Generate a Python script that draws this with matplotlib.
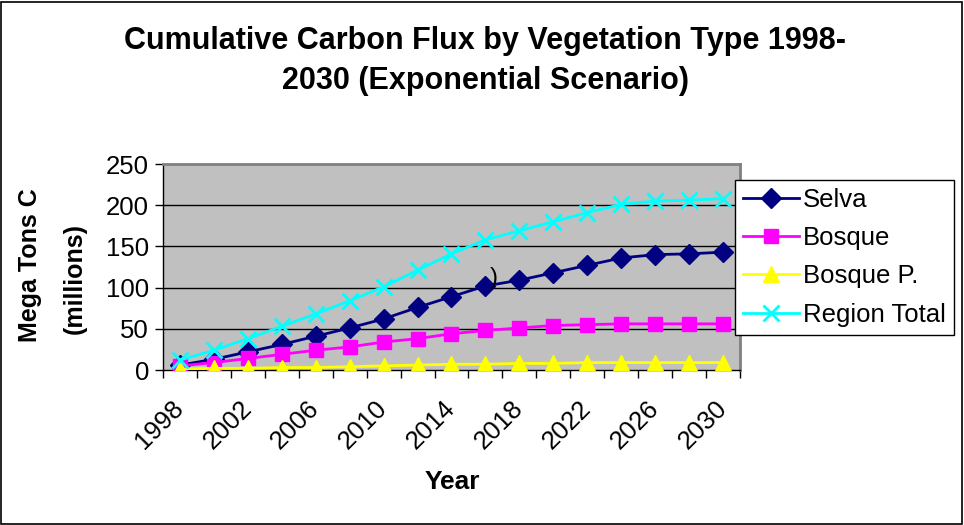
import matplotlib
matplotlib.use("Agg")
import matplotlib.pyplot as plt
from matplotlib.patches import Rectangle

years = [1998, 2000, 2002, 2004, 2006, 2008, 2010, 2012, 2014, 2016,
         2018, 2020, 2022, 2024, 2026, 2028, 2030]
selva = [6, 13, 22, 31, 41, 51, 62, 76, 89, 102, 109, 118, 127, 136, 140, 141, 143]
bosque = [5, 9, 14, 19, 24, 28, 34, 38, 44, 48, 51, 54, 55, 56, 56, 56, 56]
bosque_p = [1, 2, 2, 3, 3, 4, 5, 6, 7, 7, 8, 8, 9, 9, 9, 9, 9]
region_total = [12, 24, 38, 53, 68, 84, 101, 121, 141, 158, 169, 180, 191, 201, 205, 206, 208]

plt.rcParams['font.family'] = ['Liberation Sans', 'DejaVu Sans']

W, H = 964, 525
fig = plt.figure(figsize=(W / 100, H / 100), dpi=100)
fig.patch.set_facecolor('white')
fig.patches.append(Rectangle((0.001, 0.002), 0.997, 0.995, transform=fig.transFigure,
                             fill=False, edgecolor='black', linewidth=1.2))

L, R, T, B = 163, 740, 164, 370
ax = fig.add_axes([L / W, 1 - B / H, (R - L) / W, (B - T) / H])
ax.set_facecolor('#C0C0C0')

x = list(range(len(years)))
lw = 2.0
ax.plot(x, selva, color='#000080', lw=lw, marker='D', ms=10, mec='#000080', label='Selva', zorder=4)
ax.plot(x, bosque, color='#FF00FF', lw=lw, marker='s', ms=10, mec='#FF00FF', label='Bosque', zorder=4)
ax.plot(x, bosque_p, color='#FFFF00', lw=lw, marker='^', ms=11, mec='#FFFF00', label='Bosque P.', zorder=4)
ax.plot(x, region_total, color='#00FFFF', lw=lw, marker='x', ms=11, mew=2.0, label='Region Total', zorder=4)

ax.text(9.26, 112, ')', fontsize=17, ha='center', va='center', color='black', zorder=5)

ax.set_xlim(-0.5, len(years) - 0.5)
ax.set_ylim(0, 250)
ax.set_yticks([0, 50, 100, 150, 200, 250])
ax.set_yticklabels(['0', '50', '100', '150', '200', '250'], fontsize=18.5)
for yv in [50, 100, 150, 200]:
    ax.axhline(yv, color='black', lw=1.0, zorder=1)

ax.set_xticks([i - 0.5 for i in range(len(years) + 1)], minor=True)
ax.set_xticks(x)
ax.set_xticklabels([str(y) if i % 2 == 0 else '' for i, y in enumerate(years)],
                   fontsize=18.5, rotation=45, ha='right', va='center', rotation_mode='anchor')
ax.tick_params(axis='x', which='major', length=0, pad=25)
ax.tick_params(axis='x', which='minor', length=6, width=1, direction='out')
ax.tick_params(axis='y', length=6, width=1, direction='out', pad=4)

for s in ['left', 'bottom']:
    ax.spines[s].set_color('black')
    ax.spines[s].set_linewidth(1.0)
for s in ['top', 'right']:
    ax.spines[s].set_color('#808080')
    ax.spines[s].set_linewidth(2.0)

fig.text(485 / W, 1 - 61 / H, 'Cumulative Carbon Flux by Vegetation Type 1998-\n2030 (Exponential Scenario)',
         ha='center', va='center', fontsize=22, fontweight='bold', linespacing=1.4)
fig.text(30 / W, 1 - 265 / H, 'Mega Tons C', rotation=90, ha='center', va='center',
         fontsize=18, fontweight='bold')
fig.text(75 / W, 1 - 278 / H, '(millions)', rotation=90, ha='center', va='center',
         fontsize=18, fontweight='bold')
fig.text(452 / W, 1 - 482 / H, 'Year', ha='center', va='center', fontsize=19, fontweight='bold')

leg = fig.legend(loc='upper left', bbox_to_anchor=(735 / W, 1 - 180 / H), fontsize=18.5,
                 frameon=True, fancybox=False, edgecolor='black', framealpha=1,
                 handlelength=2.2, handletextpad=0.15, labelspacing=0.56, borderpad=0.3,
                 borderaxespad=0)
leg.get_frame().set_linewidth(1.0)

fig.savefig('out.png', dpi=100)
